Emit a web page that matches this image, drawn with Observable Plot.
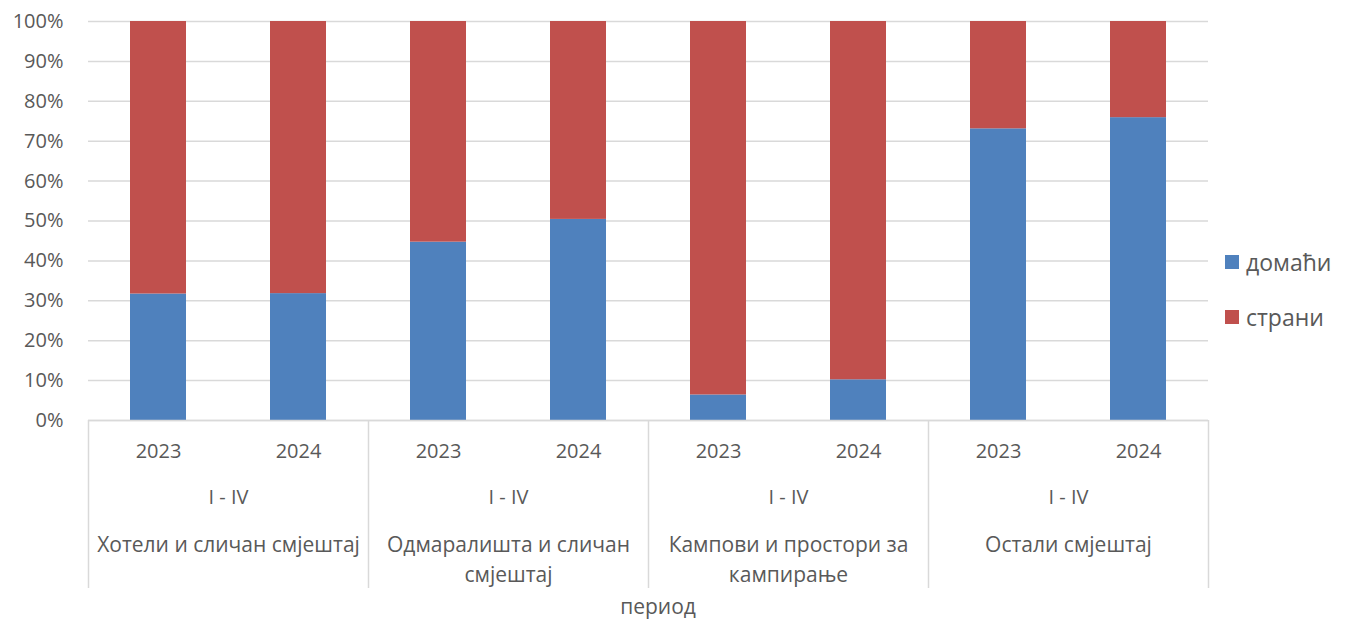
<!DOCTYPE html>
<html>
<head>
<meta charset="utf-8">
<script src="https://cdn.jsdelivr.net/npm/d3@7"></script>
<script src="https://cdn.jsdelivr.net/npm/@observablehq/plot@0.6"></script>
<style>
  html, body { margin: 0; padding: 0; background: #fff; }
  #wrap { position: relative; width: 1348px; height: 621px; font-family: "Open Sans", sans-serif; }
  #legend { position: absolute; left: 1225px; top: 246px; font-size: 23px; color: #595959; }
  #legend .item { display: flex; align-items: center; height: 32px; margin-bottom: 23px; }
  #legend .sw { width: 14px; height: 14px; margin-right: 7px; }
</style>
</head>
<body>
<div id="wrap"><div id="chart"></div><div id="legend"></div></div>
<script>
const groups = ["Хотели и сличан смјештај", "Одмаралишта и сличан\nсмјештај", "Кампови и простори за\nкампирање", "Остали смјештај"];
const years = ["2023", "2024"];
const periodLabel = "I - IV";
const axisTitle = "период";
const seriesNames = ["домаћи", "страни"];
const seriesColors = ["#4f81bd", "#c0504d"];
// order: group1 2023, group1 2024, group2 2023, ...
const domaci = [31.7, 31.8, 44.7, 50.4, 6.4, 10.2, 73.1, 75.9];
const strani = [68.3, 68.2, 55.3, 49.6, 93.6, 89.8, 26.9, 24.1];
const yTicks = [0, 10, 20, 30, 40, 50, 60, 70, 80, 90, 100];

const W = 1348, H = 621, ML = 88, MR = 140, MT = 21, MB = 201;
const keys = [];
groups.forEach((g, gi) => years.forEach((y, yi) => keys.push({key: gi + "|" + y, group: g, gi, year: y})));
const rows = [];
keys.forEach((k, i) => {
  rows.push({key: k.key, series: seriesNames[0], value: domaci[i]});
  rows.push({key: k.key, series: seriesNames[1], value: strani[i]});
});
const step = (W - ML - MR) / keys.length;
const firstKeys = keys.filter(k => k.year === years[0]);
const sepKeys = firstKeys.map(k => ({key: k.key, dx: -step / 2})).concat([{key: keys[keys.length - 1].key, dx: step / 2}]);

const font = "Open Sans, sans-serif";
const chart = Plot.plot({
  width: W, height: H,
  marginLeft: ML, marginRight: MR, marginTop: MT, marginBottom: MB,
  style: {fontFamily: font, fontSize: "20px", color: "#595959", background: "#fff"},
  x: {domain: keys.map(k => k.key), paddingInner: 0.6, paddingOuter: 0.3, axis: null},
  y: {domain: [0, 100], axis: null},
  color: {domain: seriesNames, range: seriesColors},
  marks: [
    Plot.gridY(yTicks, {stroke: "#d9d9d9", strokeOpacity: 1, strokeWidth: 1.5}),
    Plot.axisY(yTicks, {tickSize: 0, tickPadding: 25, tickFormat: d => d + "%", fontSize: 20, fill: "#595959", label: null}),
    Plot.barY(rows, Plot.stackY({x: "key", y: "value", fill: "series", order: seriesNames})),
    // separators of the category axis
    ...sepKeys.map(s => Plot.ruleX([s], {x: "key", dx: s.dx, y1: 0, y2: -42.1, stroke: "#d9d9d9", strokeWidth: 1.5})),
    Plot.ruleY([0], {stroke: "#d9d9d9", strokeWidth: 1.5}),
    Plot.text(keys, {x: "key", text: "year", frameAnchor: "bottom", lineAnchor: "middle", dy: 31, fontSize: 20, fill: "#595959"}),
    Plot.text(firstKeys, {x: "key", text: () => periodLabel, frameAnchor: "bottom", lineAnchor: "middle", dx: step / 2, dy: 77, fontSize: 20, fill: "#595959"}),
    Plot.text(firstKeys, {x: "key", text: "group", frameAnchor: "bottom", lineAnchor: "top", dx: step / 2, dy: 111, lineHeight: 1.4, fontSize: 21, fill: "#595959"}),
    Plot.text([axisTitle], {frameAnchor: "bottom", lineAnchor: "middle", dx: 9.5, dy: 187, fontSize: 21, fill: "#595959"})
  ]
});
document.getElementById("chart").appendChild(chart);

const legend = document.getElementById("legend");
seriesNames.forEach((n, i) => {
  const item = document.createElement("div");
  item.className = "item";
  const sw = document.createElement("span");
  sw.className = "sw";
  sw.style.background = seriesColors[i];
  const t = document.createElement("span");
  t.textContent = n;
  item.appendChild(sw); item.appendChild(t);
  legend.appendChild(item);
});
</script>
</body>
</html>
